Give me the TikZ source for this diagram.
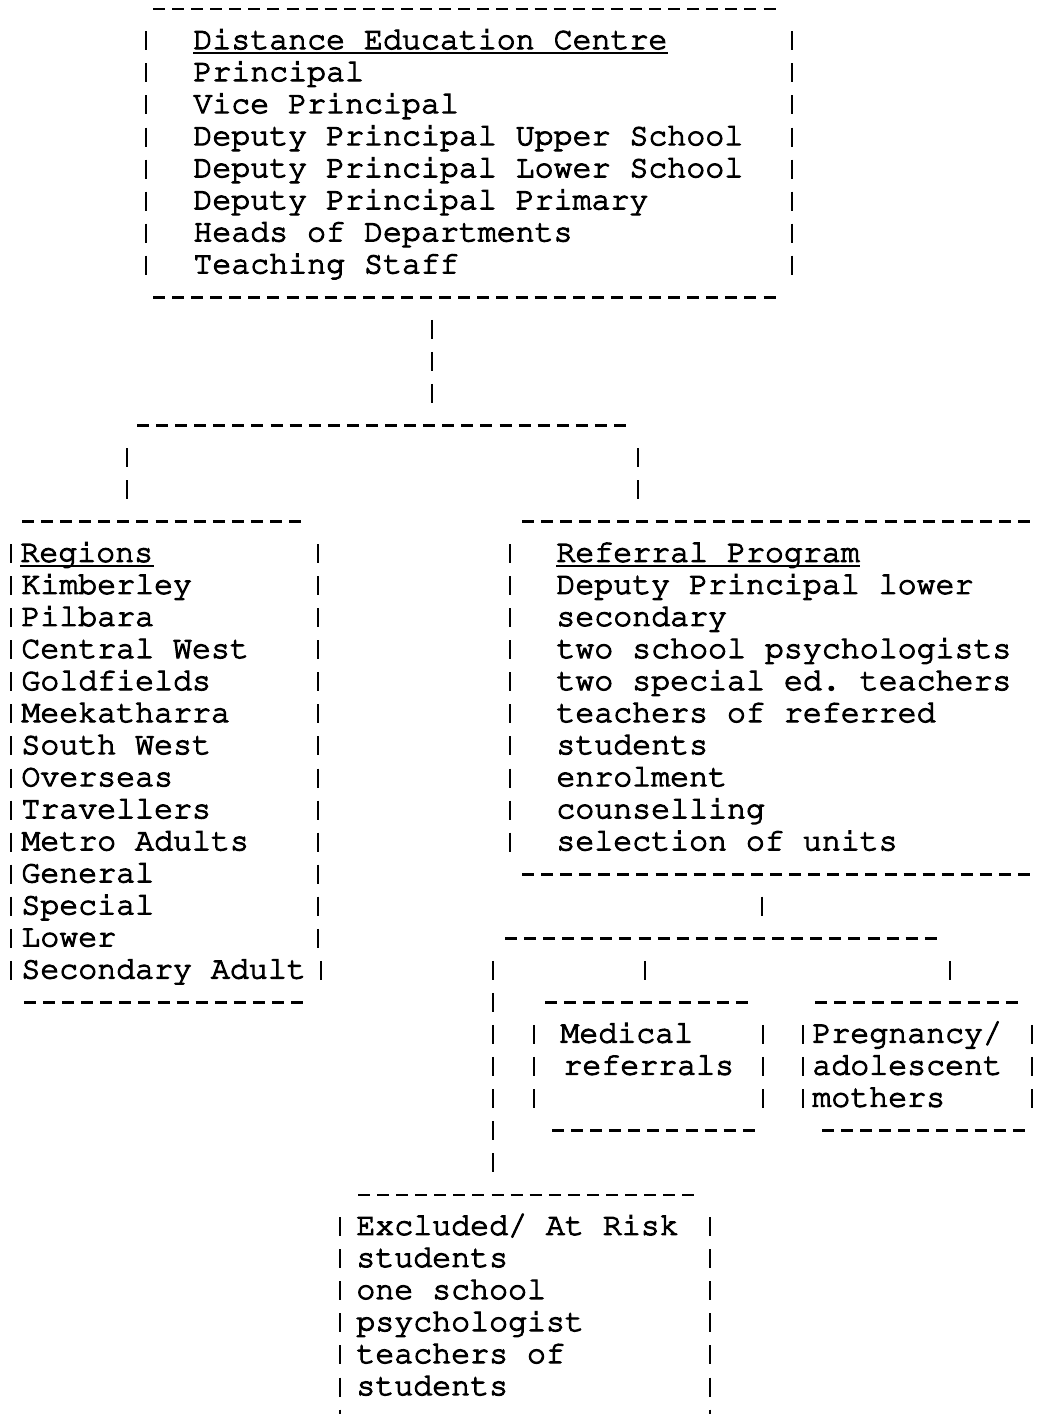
\documentclass[tikz,border=0pt]{standalone}
\usepackage[T1]{fontenc}
\newcommand\typewriter{\fontfamily{pcr}\selectfont\frenchspacing}

\begin{document}
\begin{tikzpicture}[x=0.5pt, y=-16.025pt,
    txt/.style={font=\typewriter\fontsize{15.8}{16}\selectfont, inner sep=0pt, anchor=base west,
        execute at begin node={\special{pdf:literal direct 2 Tr 0.55 w}},
        execute at end node={\special{pdf:literal direct 0 Tr}}},
    hline/.style={line width=1.3pt, dash pattern=on 6pt off 3.54pt},
    vline/.style={line width=1.2pt, dash pattern=on 9.5pt off 6.525pt},
    uline/.style={line width=0.9pt}]
    \useasboundingbox (0,-1.2793) rectangle (1043,42.8393);

    % Distance Education Centre box
    \draw[hline] (153,-1) -- (776,-1);
    \draw[hline] (153,8) -- (776,8);
    \draw[vline] (146,-0.3) -- (146,7.3);
    \draw[vline] (792,-0.3) -- (792,7.3);
    \node[txt] (dec0) at (193,0.25) {Distance Education Centre};
    \draw[uline] ([yshift=-2pt]dec0.base west) -- ([yshift=-2pt]dec0.base east);
    \foreach \t [count=\i] in {Principal, Vice Principal, Deputy Principal Upper School,
        Deputy Principal Lower School, Deputy Principal Primary, Heads of Departments,
        Teaching Staff}
        \node[txt] (dec\i) at (193,\i+0.25) {\t};

    % -- stem and first split
    \coordinate (stemtop) at (432,8.7);
    \coordinate (stembot) at (432,11.3);
    \draw[vline] (stemtop) -- (stembot);
    \coordinate (splitl) at (137,12);
    \coordinate (splitr) at (626,12);
    \draw[hline] (splitl) -- (splitr);
    \coordinate (regtop) at (127,12.7);
    \coordinate (regbot) at (127,14.3);
    \draw[vline] (regtop) -- (regbot);
    \coordinate (reftop) at (638,12.7);
    \coordinate (refbot) at (638,14.3);
    \draw[vline] (reftop) -- (refbot);

    % Regions box
    \draw[hline] (22,15) -- (301,15);
    \draw[hline] (24,30) -- (303,30);
    \draw[vline] (11,15.7) -- (11,29.3);
    \draw[vline] (318,15.7) -- (318,28.3);
    \draw[vline] (321,28.7) -- (321,29.3);
    \node[txt] (reg0) at (20,16.25) {Regions};
    \draw[uline] ([yshift=-2pt]reg0.base west) -- ([yshift=-2pt]reg0.base east);
    \foreach \t [count=\i] in {Kimberley, Pilbara, Central West, Goldfields, Meekatharra,
        South West, Overseas, Travellers, Metro Adults, General, Special, Lower,
        Secondary Adult}
        \node[txt] (reg\i) at (21,16.25+\i) {\t};

    % Referral Program box
    \draw[hline] (522,15) -- (1030,15);
    \draw[hline] (522,26) -- (1030,26);
    \draw[vline] (510,15.7) -- (510,25.3);
    \node[txt] (ref0) at (556,16.25) {Referral Program};
    \draw[uline] ([yshift=-2pt]ref0.base west) -- ([yshift=-2pt]ref0.base east);
    \foreach \t [count=\i] in {Deputy Principal lower, secondary, two school psychologists,
        two special ed. teachers, teachers of referred, students, enrolment, counselling,
        selection of units}
        \node[txt] (ref\i) at (556,16.25+\i) {\t};

    % -- second split
    \coordinate (stem2top) at (762,26.7);
    \coordinate (stem2bot) at (762,27.3);
    \draw[vline] (stem2top) -- (stem2bot);
    \coordinate (split2l) at (505,28);
    \coordinate (split2r) at (937,28);
    \draw[hline] (split2l) -- (split2r);
    \coordinate (exctop) at (493,28.7);
    \coordinate (excbot) at (493,35.3);
    \draw[vline] (exctop) -- (excbot);
    \coordinate (medtop) at (645,28.7);
    \coordinate (medbot) at (645,29.3);
    \draw[vline] (medtop) -- (medbot);
    \coordinate (pregtop) at (950,28.7);
    \coordinate (pregbot) at (950,29.3);
    \draw[vline] (pregtop) -- (pregbot);

    % Medical box
    \draw[hline] (545,30) -- (748,30);
    \draw[hline] (552,34) -- (755,34);
    \draw[vline] (534,30.7) -- (534,33.3);
    \draw[vline] (763,30.7) -- (763,33.3);
    \node[txt] (med1) at (560,31.25) {Medical};
    \node[txt] (med2) at (563,32.25) {referrals};

    % Pregnancy box
    \draw[hline] (815,30) -- (1018,30);
    \draw[hline] (822,34) -- (1025,34);
    \draw[vline] (803,30.7) -- (803,33.3);
    \draw[vline] (1032,30.7) -- (1032,33.3);
    \foreach \t [count=\i] in {Pregnancy/, adolescent, mothers}
        \node[txt] (preg\i) at (812,30.25+\i) {\t};

    % Excluded box
    \draw[hline] (358,36) -- (694,36);
    \draw[vline] (340,36.7) -- (340,43);
    \draw[vline] (710,36.7) -- (710,43);
    \foreach \t [count=\i] in {Excluded/ At Risk, students, one school, psychologist,
        teachers of, students}
        \node[txt] (exc\i) at (356,36.25+\i) {\t};
\end{tikzpicture}
\end{document}
